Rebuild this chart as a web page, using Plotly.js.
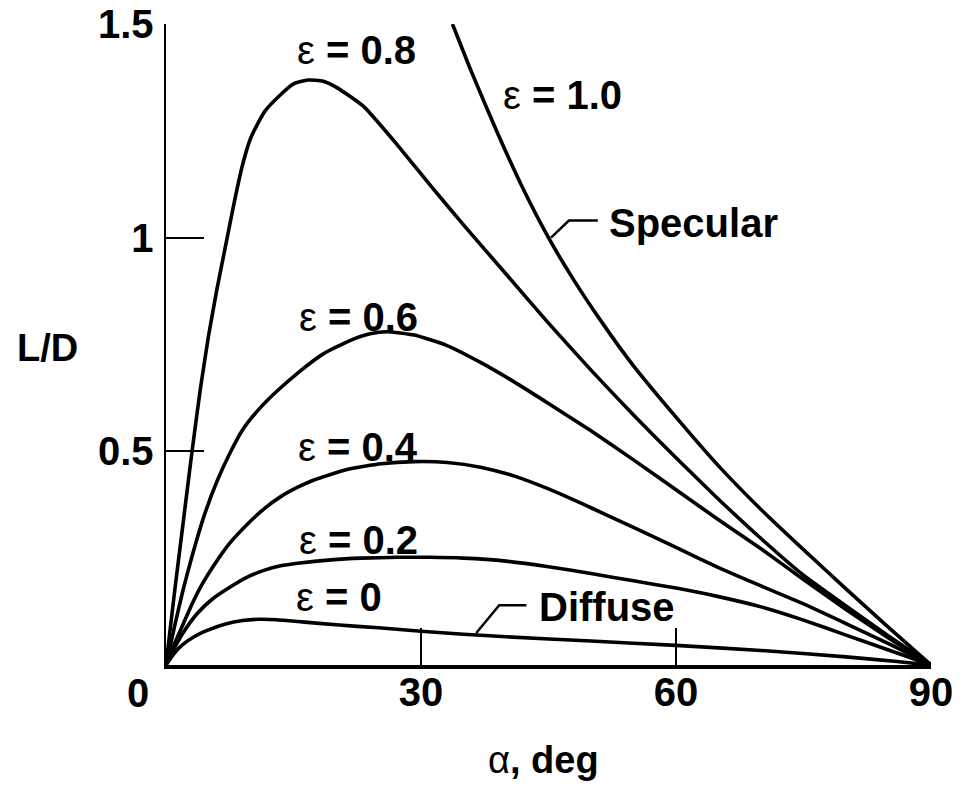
<!DOCTYPE html>
<html>
<head>
<meta charset="utf-8">
<script src="https://cdn.plot.ly/plotly-3.0.1.min.js"></script>
<style>html,body{margin:0;padding:0;background:#fff;}</style>
</head>
<body>
<div id="chart" style="width:963px;height:786px;"></div>
<script>
// Angle of attack (deg) and L/D for each accommodation setting
const alphaE0 = [0, 1, 2, 3.3, 5, 7, 9, 11, 13, 16, 20, 25, 30, 35, 40, 50, 60, 70, 80, 86, 90];
const ldE0    = [0, 0.028, 0.048, 0.066, 0.082, 0.096, 0.104, 0.107, 0.106, 0.101, 0.094, 0.087, 0.079, 0.072, 0.066, 0.056, 0.046, 0.034, 0.019, 0.008, 0];

const alphaE02 = [0, 1, 2, 3.7, 5.5, 7.6, 9.5, 11.6, 13.5, 15.5, 19.4, 23, 27.3, 31, 35, 40, 45, 50, 55, 60, 65, 70, 75, 80, 85, 90];
const ldE02    = [0, 0.04, 0.075, 0.121, 0.155, 0.183, 0.205, 0.222, 0.232, 0.238, 0.246, 0.25, 0.252, 0.252, 0.25, 0.243, 0.23, 0.214, 0.197, 0.18, 0.16, 0.136, 0.105, 0.07, 0.035, 0];

const alphaE04 = [0, 1, 2, 3, 4, 5.7, 7.5, 9.6, 11.5, 13.5, 15.5, 17.4, 21.4, 25.3, 29.2, 33.1, 37, 41, 45, 50, 55, 60, 65, 70, 75, 80, 85, 90];
const ldE04    = [0, 0.05, 0.095, 0.14, 0.18, 0.235, 0.285, 0.33, 0.365, 0.394, 0.416, 0.433, 0.458, 0.471, 0.476, 0.474, 0.463, 0.442, 0.412, 0.368, 0.322, 0.275, 0.228, 0.185, 0.143, 0.097, 0.05, 0];

const alphaE06 = [0, 1, 2, 3, 4.5, 6, 7.5, 9, 11, 13, 15.6, 18.5, 21.5, 24, 26, 29.2, 33, 37, 41, 45, 50, 55, 60, 65, 70, 75, 80, 85, 90];
const ldE06    = [0, 0.09, 0.175, 0.25, 0.35, 0.43, 0.495, 0.55, 0.6, 0.64, 0.685, 0.728, 0.758, 0.775, 0.78, 0.772, 0.748, 0.708, 0.662, 0.612, 0.548, 0.48, 0.41, 0.34, 0.272, 0.2, 0.13, 0.063, 0];

const alphaE08 = [0, 1, 2, 3, 4, 5, 6, 7, 8, 9, 10, 11.6, 13.5, 15, 16.7, 18.5, 20.2, 23.3, 27.3, 31.2, 35, 40, 45, 50, 55, 60, 65, 70, 75, 80, 85, 90];
const ldE08    = [0, 0.17, 0.33, 0.49, 0.64, 0.77, 0.88, 0.98, 1.08, 1.17, 1.235, 1.295, 1.335, 1.36, 1.369, 1.366, 1.35, 1.306, 1.215, 1.12, 1.03, 0.915, 0.8, 0.69, 0.585, 0.485, 0.388, 0.296, 0.21, 0.138, 0.068, 0];

const alphaE10 = [33.7, 36, 39, 42, 45, 48, 51, 55, 60, 65, 70, 75, 80, 85, 90];
const ldE10    = [1.5, 1.385, 1.245, 1.115, 1.0, 0.9, 0.81, 0.70, 0.58, 0.466, 0.364, 0.27, 0.178, 0.088, 0];

const xTickVals = [30, 60, 90];
const xTickText = ['30', '60', '90'];
const yTickVals = [0.5, 1, 1.5];
const yTickText = ['0.5', '1', '1.5'];

const FONT = 'Liberation Sans, Arial, Helvetica, sans-serif';
const lineStyle = {color: '#000', width: 3.6, shape: 'spline', smoothing: 0.5};

const series = [
  [alphaE0, ldE0], [alphaE02, ldE02], [alphaE04, ldE04],
  [alphaE06, ldE06], [alphaE08, ldE08], [alphaE10, ldE10]
];
const traces = series.map(s => ({
  x: s[0], y: s[1], type: 'scatter', mode: 'lines',
  line: lineStyle, hoverinfo: 'skip', showlegend: false
}));

function lab(text, x, y) {
  return {text: text, x: x, y: y, xref: 'x', yref: 'y', showarrow: false,
          xanchor: 'center', yanchor: 'middle',
          font: {family: FONT, size: 40, color: '#000', weight: 'normal'}};
}

const annotations = [
  lab('ε <b>= 0.8</b>', 22.4, 1.44),
  lab('ε <b>= 1.0</b>', 46.6, 1.334),
  lab('<b>Specular</b>', 62, 1.035),
  lab('ε <b>= 0.6</b>', 22.6, 0.815),
  lab('ε <b>= 0.4</b>', 22.6, 0.51),
  lab('ε <b>= 0.2</b>', 22.6, 0.293),
  lab('ε <b>= 0</b>', 20.3, 0.16),
  lab('<b>Diffuse</b>', 51.9, 0.135),
  {text: '<b>L/D</b>', x: -0.155, y: 0.494, xref: 'paper', yref: 'paper', showarrow: false,
   xanchor: 'center', yanchor: 'middle', font: {family: FONT, size: 38, color: '#000'}},
  {text: 'α<b>, deg</b>', x: 0.494, y: -0.148, xref: 'paper', yref: 'paper', showarrow: false,
   xanchor: 'center', yanchor: 'middle', font: {family: FONT, size: 38, color: '#000', weight: 'normal'}},
  {text: '<b>0</b>', x: 0, y: 0, xref: 'x', yref: 'y', showarrow: false, xshift: -28, yshift: -28,
   xanchor: 'center', yanchor: 'middle', font: {family: FONT, size: 40, color: '#000'}}
];

const shapes = [
  {type: 'path', xref: 'x', yref: 'y', path: 'M 45.3 1.0 L 47.4 1.04 L 50.8 1.04',
   line: {color: '#000', width: 2.5}},
  {type: 'path', xref: 'x', yref: 'y', path: 'M 36.5 0.075 L 39.2 0.14 L 42.4 0.14',
   line: {color: '#000', width: 2.5}}
];

const layout = {
  width: 963, height: 786,
  margin: {l: 166, r: 32, t: 24, b: 121},
  paper_bgcolor: '#fff', plot_bgcolor: '#fff',
  showlegend: false,
  font: {family: FONT, color: '#000'},
  xaxis: {
    range: [0, 90], showline: true, linewidth: 3.5, linecolor: '#000',
    ticks: 'inside', ticklen: 37, tickwidth: 2, tickcolor: '#000',
    tickvals: xTickVals, ticktext: xTickText,
    tickfont: {family: FONT, size: 40, color: '#000', weight: 'bold'},
    showgrid: false, zeroline: false, ticklabelstandoff: -11, fixedrange: true
  },
  yaxis: {
    range: [0, 1.5], showline: true, linewidth: 2.5, linecolor: '#000',
    ticks: 'inside', ticklen: 38, tickwidth: 2, tickcolor: '#000',
    tickvals: yTickVals, ticktext: yTickText,
    tickfont: {family: FONT, size: 40, color: '#000', weight: 'bold'},
    showgrid: false, zeroline: false, ticklabelstandoff: 2, fixedrange: true
  },
  annotations: annotations,
  shapes: shapes
};

Plotly.newPlot('chart', traces, layout, {staticPlot: true, displayModeBar: false});
</script>
</body>
</html>
